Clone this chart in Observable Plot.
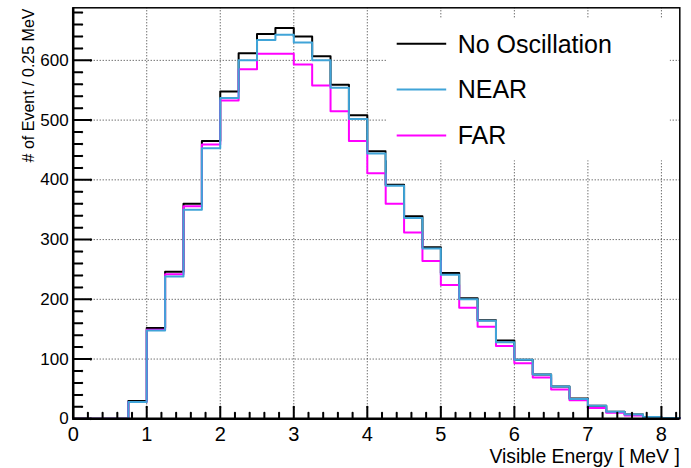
<!DOCTYPE html>
<html><head><meta charset="utf-8">
<script src="https://cdn.jsdelivr.net/npm/d3@7"></script>
<script src="https://cdn.jsdelivr.net/npm/@observablehq/plot@0.6"></script>
<style>body{margin:0;background:#fff}</style>
</head><body><div id="chart"></div>
<script>
const binEdges = [0,0.25,0.5,0.75,1,1.25,1.5,1.75,2,2.25,2.5,2.75,3,3.25,3.5,3.75,4,4.25,4.5,4.75,5,5.25,5.5,5.75,6,6.25,6.5,6.75,7,7.25,7.5,7.75,8,8.25];
const noOscillation = [0,0,0,30,152,246,360,465,548,612,644,654,640,607,559,508,448,392,339,287,244,202,165,131,99,74,54,34,22,12,7,3,1.5];
const nearCounts    = [0,0,0,28,148,238,350,453,537,600,634,643,630,600,554,502,444,390,336,285,241,200,164,128,99,74,54,33,22,12,7,3,1.5];
const farCounts     = [0,0,0,28,149,242,356,459,533,585,611,611,593,558,515,465,411,360,312,264,224,186,154,122,93,69,49,31,18,10,5.5,2.5,1];
const seriesNames = ["No Oscillation", "NEAR", "FAR"];
const seriesColors = ["#000000", "#40a4d8", "#ff00ff"];
const xMajorTicks = [0,1,2,3,4,5,6,7,8];
const yMajorTicks = [0,100,200,300,400,500,600];
const xMinorTicks = d3.range(0.2, 8.25, 0.2).filter(v => Math.abs(v - Math.round(v)) > 1e-6);
const yMinorTicks = d3.range(20, 687, 20).filter(v => v % 100 !== 0);
const xTitle = "Visible Energy [ MeV ]";
const yTitle = "# of Event / 0.25 MeV";

function steps(vals) {
  const rows = vals.map((v, i) => ({x: binEdges[i], y: v}));
  rows.push({x: binEdges[vals.length], y: vals[vals.length - 1]});
  return rows;
}
const seriesData = [noOscillation, farCounts, nearCounts];
const seriesDrawColors = [seriesColors[0], seriesColors[2], seriesColors[1]];

function legendMark(index, scales, values, dimensions) {
  const {marginLeft, marginTop} = dimensions;
  const g = d3.create("svg:g").attr("text-anchor", "start");
  g.append("rect")
    .attr("x", marginLeft + 314).attr("y", marginTop + 11)
    .attr("width", 283).attr("height", 142)
    .style("fill", "#ffffff").style("stroke", "none");
  seriesNames.forEach((name, i) => {
    const cy = marginTop + 36.5 + i * 45.8;
    g.append("line")
      .attr("x1", marginLeft + 324).attr("x2", marginLeft + 373.5)
      .attr("y1", cy).attr("y2", cy)
      .style("stroke", seriesColors[i]).style("stroke-width", 2);
    g.append("text")
      .attr("x", marginLeft + 385).attr("y", cy).attr("dy", "0.35em")
      .attr("text-anchor", "start")
      .style("font-size", "25px").style("fill", "black").text(name);
  });
  return g.node();
}

// axis ticks: vectors from the axes inward, with a negligible head
const tickStyle = {stroke: "black", strokeWidth: 2, anchor: "start", r: 0.35};

const chart = Plot.plot({
  width: 691,
  height: 468,
  marginLeft: 72.7,
  marginRight: 11.7,
  marginTop: 7.3,
  marginBottom: 49.7,
  style: {fontFamily: "'Liberation Sans', Arial, Helvetica, sans-serif", color: "black", background: "white"},
  x: {domain: [0, 8.25]},
  y: {domain: [0, 688]},
  marks: [
    Plot.gridX({ticks: xMajorTicks.filter(d => d > 0), stroke: "#333", strokeOpacity: 1, strokeDasharray: "1,2"}),
    Plot.gridY({ticks: yMajorTicks.filter(d => d > 0), stroke: "#333", strokeOpacity: 1, strokeDasharray: "1,2"}),
    ...seriesData.map((vals, i) => Plot.line(steps(vals), {x: "x", y: "y", curve: "step-after", stroke: seriesDrawColors[i], strokeWidth: 2})),
    legendMark,
    Plot.axisY({ticks: yMajorTicks, tickSize: 0, tickPadding: 4.5, fontSize: 17, label: null}),
    Plot.axisX({ticks: xMajorTicks, tickSize: 0, tickPadding: 7.5, fontSize: 20, label: null}),
    Plot.vector(yMajorTicks, {x: () => 0, y: d => d, rotate: 90, length: 18, ...tickStyle}),
    Plot.vector(yMinorTicks, {x: () => 0, y: d => d, rotate: 90, length: 9, ...tickStyle}),
    Plot.vector(xMajorTicks, {x: d => d, y: () => 0, rotate: 0, length: 12, ...tickStyle}),
    Plot.vector(xMinorTicks, {x: d => d, y: () => 0, rotate: 0, length: 6, ...tickStyle}),
    Plot.frame({stroke: "black", strokeWidth: 1.5}),
    Plot.ruleX([0], {stroke: "black", strokeWidth: 2.5}),
    Plot.ruleY([0], {stroke: "black", strokeWidth: 2.5}),
    Plot.text([xTitle], {frameAnchor: "bottom-right", textAnchor: "end", lineAnchor: "middle", dy: 37.5, fontSize: 19.4}),
    Plot.text([yTitle], {frameAnchor: "top-left", rotate: -90, textAnchor: "end", lineAnchor: "middle", dx: -44.8, dy: 0.7, fontSize: 16})
  ]
});
document.getElementById("chart").appendChild(chart);
</script>
</body></html>
